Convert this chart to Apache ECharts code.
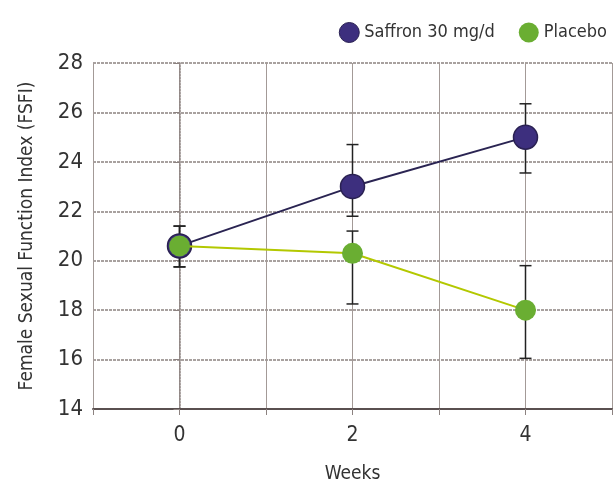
<!DOCTYPE html>
<html><head><meta charset="utf-8">
<script src="https://cdn.jsdelivr.net/npm/echarts@6/dist/echarts.min.js"></script>
<style>html,body{margin:0;padding:0;background:#fff}#c{width:616px;height:484px}</style>
</head><body><div id="c"></div>
<script>
const weeks = [0, 2, 4];
const saffronMean = [20.6, 23.0, 25.0];
const saffronLow = [19.75, 21.8, 23.55];
const saffronHigh = [21.4, 24.7, 26.35];
const placeboMean = [20.6, 20.3, 18.0];
const placeboLow = [19.75, 18.25, 16.05];
const placeboHigh = [21.4, 21.2, 19.8];
const xTickLabels = ['0', '2', '4'];
const seriesNames = ['Saffron 30 mg/d', 'Placebo'];

const FONT = '"Liberation Sans Narrow","DejaVu Sans Condensed","Liberation Sans",sans-serif';
const gridCol = '#8c8280';

function errSeries(name, low, high) {
  return {
    type: 'custom', name: name + ' err', silent: true, z: 1,
    data: weeks.map((w, i) => [w, low[i], high[i]]),
    renderItem: function (params, api) {
      const x = api.value(0);
      const lo = api.coord([x, api.value(1)]);
      const hi = api.coord([x, api.value(2)]);
      const cap = 6;
      const st = {stroke: '#222', lineWidth: 1.5};
      return {type: 'group', children: [
        {type: 'line', shape: {x1: lo[0], y1: lo[1], x2: hi[0], y2: hi[1]}, style: st},
        {type: 'line', shape: {x1: lo[0]-cap, y1: lo[1], x2: lo[0]+cap, y2: lo[1]}, style: st},
        {type: 'line', shape: {x1: hi[0]-cap, y1: hi[1], x2: hi[0]+cap, y2: hi[1]}, style: st}
      ]};
    }
  };
}

const chart = echarts.init(document.getElementById('c'));
chart.setOption({
  animation: false,
  backgroundColor: '#fff',
  legend: {
    data: [
      {name: seriesNames[0], itemStyle: {color: '#3d2f7e', borderColor: '#2a2152', borderWidth: 1}},
      {name: seriesNames[1], itemStyle: {color: '#6aae32', borderWidth: 0}}
    ],
    right: 4, top: 17, icon: 'circle', itemWidth: 20, itemHeight: 20, itemGap: 24,
    textStyle: {fontFamily: FONT, fontSize: 18, color: '#333'}
  },
  grid: {left: 93, right: 4, top: 63, bottom: 75, outerBoundsMode: 'none', containLabel: false},
  xAxis: {
    type: 'value', min: -1, max: 5, interval: 1,
    name: 'Weeks', nameLocation: 'middle', nameGap: 56,
    nameTextStyle: {fontFamily: FONT, fontSize: 19, color: '#333'},
    axisLine: {show: true, lineStyle: {color: '#5a5050', width: 2}},
    axisTick: {show: true, length: 6, lineStyle: {color: gridCol}},
    axisLabel: {fontFamily: FONT, fontSize: 21, color: '#333', margin: 16,
      formatter: v => { const i = weeks.indexOf(v); return i >= 0 ? xTickLabels[i] : ''; }},
    splitLine: {show: true, lineStyle: {color: '#a39a97', width: 1}}
  },
  yAxis: {
    type: 'value', min: 14, max: 28, interval: 2,
    name: 'Female Sexual Function Index (FSFI)', nameLocation: 'middle', nameGap: 56,
    nameTextStyle: {fontFamily: FONT, fontSize: 19, color: '#333'},
    axisLine: {show: true, lineStyle: {color: gridCol, type: 'dotted', width: 1.5}},
    axisTick: {show: true, length: 6, lineStyle: {color: gridCol}},
    axisLabel: {fontFamily: FONT, fontSize: 22, color: '#333', margin: 10},
    splitLine: {show: true, lineStyle: {color: gridCol, type: [3, 1], width: 1.5}}
  },
  series: [
    errSeries(seriesNames[0], saffronLow, saffronHigh),
    errSeries(seriesNames[1], placeboLow, placeboHigh),
    {
      name: seriesNames[0], type: 'line', z: 3,
      data: weeks.map((w, i) => [w, saffronMean[i]]),
      symbol: 'circle', symbolSize: 24,
      lineStyle: {color: '#2a2452', width: 2},
      itemStyle: {color: '#3d2f7e', borderColor: '#2a2152', borderWidth: 1.5}
    },
    {
      name: seriesNames[1], type: 'line', z: 4,
      data: weeks.map((w, i) => [w, placeboMean[i]]),
      symbol: 'circle', symbolSize: 21,
      lineStyle: {color: '#b3c800', width: 2},
      itemStyle: {color: '#6aae32', borderWidth: 0}
    }
  ]
});
</script></body></html>
